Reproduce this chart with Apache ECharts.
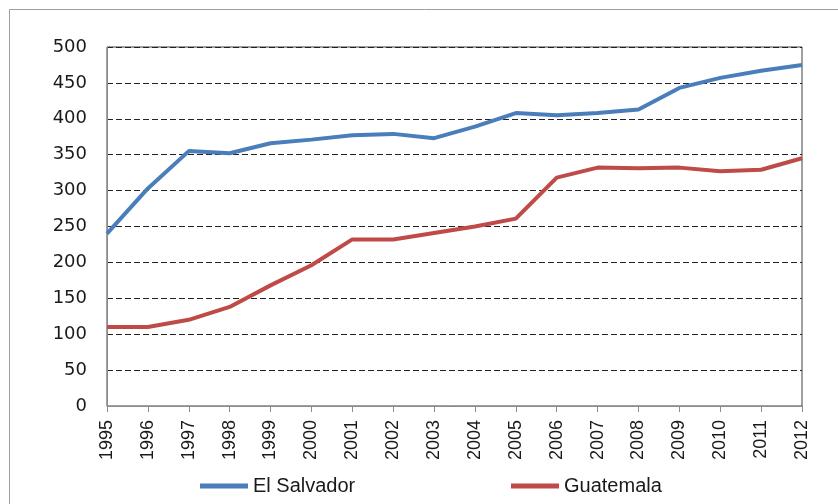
<!DOCTYPE html>
<html>
<head>
<meta charset="utf-8">
<script src="https://cdn.jsdelivr.net/npm/echarts@6/dist/echarts.min.js"></script>
<style>
  html, body { margin: 0; padding: 0; background: #fff; }
  #chart { width: 838px; height: 504px; }
</style>
</head>
<body>
<div id="chart"></div>
<script>
var years = ['1995', '1996', '1997', '1998', '1999', '2000', '2001', '2002', '2003',
    '2004', '2005', '2006', '2007', '2008', '2009', '2010', '2011', '2012']
var elSalvador = [240, 303, 355, 352, 366, 371, 377, 379, 373, 389, 408, 405, 408, 413, 443, 457, 467, 475]
var guatemala = [110, 110, 120, 138, 168, 196, 232, 232, 241, 250, 261, 318, 332, 331, 332, 327, 329, 345]

var chart = echarts.init(document.getElementById('chart'))

function legendAt(left, name) {
    return {
        left: left, top: 471,
        itemWidth: 48, itemHeight: 5, itemGap: 0,
        icon: 'rect',
        textStyle: { fontFamily: 'Liberation Sans', fontSize: 20, color: '#1a1a1a' },
        data: [name]
    }
}

var option = {
    animation: false,
    backgroundColor: '#fff',
    graphic: [{
        type: 'rect',
        shape: { x: 9.5, y: 9.5, width: 840, height: 520 },
        style: { fill: 'none', stroke: '#a0a0a0', lineWidth: 1 },
        silent: true
    }],
    grid: {
        left: 107, right: 36, top: 47, bottom: 98,
        show: true,
        borderColor: '#404040',
        borderWidth: 1
    },
    legend: [legendAt(195, 'El Salvador'), legendAt(506, 'Guatemala')],
    xAxis: {
        type: 'category',
        data: years,
        boundaryGap: false,
        axisLine: { lineStyle: { color: '#8c8c8c', width: 1 } },
        axisTick: { show: true, length: 6, lineStyle: { color: '#8c8c8c' } },
        axisLabel: {
            rotate: 90, margin: 14,
            fontFamily: 'Liberation Sans', fontSize: 18, color: '#1a1a1a'
        },
        splitLine: { show: false }
    },
    yAxis: {
        type: 'value',
        min: 0, max: 500, interval: 50,
        axisLine: { show: true, lineStyle: { color: '#8c8c8c' } },
        axisTick: { show: false },
        axisLabel: { margin: 20, fontFamily: 'DejaVu Sans', fontSize: 18, color: '#1a1a1a' },
        splitLine: { lineStyle: { color: '#222', type: [6, 3], width: 1 } }
    },
    series: [
        {
            name: 'El Salvador', type: 'line', data: elSalvador,
            symbol: 'none', color: '#4a7ebb',
            lineStyle: { width: 4, color: '#4a7ebb' }
        },
        {
            name: 'Guatemala', type: 'line', data: guatemala,
            symbol: 'none', color: '#be4b48',
            lineStyle: { width: 4, color: '#be4b48' }
        }
    ]
}

chart.setOption(option)
</script>
</body>
</html>
